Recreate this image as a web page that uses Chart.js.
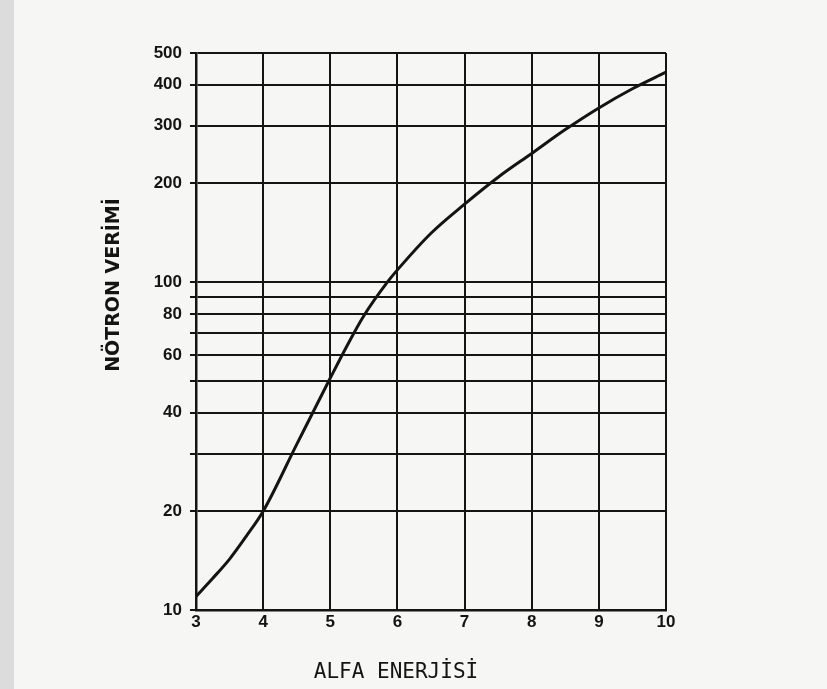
<!DOCTYPE html>
<html>
<head>
<meta charset="utf-8">
<script src="https://cdn.jsdelivr.net/npm/chart.js@4.4.1/dist/chart.umd.min.js"></script>
<style>
    html, body { margin: 0; padding: 0; }
    body { width: 827px; height: 689px; background: #f6f6f4; overflow: hidden; }
    #wrap { position: relative; width: 827px; height: 689px; }
    #strip { position: absolute; left: 0; top: 0; width: 14px; height: 689px; background: #dcdcdc; }
    canvas { position: absolute; left: 0; top: 0; }
</style>
</head>
<body>
<div id="wrap">
    <div id="strip"></div>
    <canvas id="yieldChart" width="827" height="689"></canvas>
</div>
<script>
// alpha energy (MeV) vs neutron yield
const energies = [3, 3.25, 3.5, 3.75, 4, 4.5, 5, 5.25, 5.5, 5.85, 6, 6.5, 7, 7.5, 8, 8.5, 9, 9.5, 10];
const yields   = [11, 12.5, 14.3, 16.8, 20, 32, 51, 64, 79, 100, 109, 141, 173, 209, 247, 292, 340, 389, 437];

const yGridValues = [10, 20, 30, 40, 50, 60, 70, 80, 90, 100, 200, 300, 400, 500];
const yTickLabels = [10, 20, 40, 60, 80, 100, 200, 300, 400, 500];
const xTicks      = [3, 4, 5, 6, 7, 8, 9, 10];

const xTitle = 'ALFA ENERJİSİ';
const yTitle = 'NÖTRON VERİMİ';

const ink = '#141414';

const axisTitles = {
    id: 'axisTitles',
    afterDraw(chart) {
        const ctx = chart.ctx;
        const area = chart.chartArea;
        ctx.save();
        ctx.fillStyle = ink;
        ctx.textAlign = 'center';
        ctx.textBaseline = 'middle';
        ctx.font = '21px "DejaVu Sans Mono"';
        ctx.fillText(xTitle, area.left + 200, area.bottom + 63);
        ctx.translate(area.left - 82, area.top + 232);
        ctx.rotate(-Math.PI / 2);
        ctx.font = 'bold 19px "DejaVu Sans"';
        ctx.fillText(yTitle, 0, 0);
        ctx.restore();
    }
};

new Chart(document.getElementById('yieldChart'), {
    type: 'line',
    data: {
        datasets: [{
            data: energies.map((e, i) => ({ x: e, y: yields[i] })),
            borderColor: ink,
            borderWidth: 3,
            pointRadius: 0,
            cubicInterpolationMode: 'monotone',
            fill: false
        }]
    },
    options: {
        responsive: false,
        animation: false,
        layout: { padding: { top: 53, right: 161, left: 0, bottom: 0 } },
        plugins: {
            legend: { display: false },
            tooltip: { enabled: false }
        },
        scales: {
            x: {
                type: 'linear',
                min: 3,
                max: 10,
                afterBuildTicks: s => { s.ticks = xTicks.map(v => ({ value: v })); },
                afterFit: s => { s.height = 79; },
                ticks: {
                    color: ink,
                    padding: 2,
                    font: { family: '"Liberation Sans"', size: 17, weight: 'bold' }
                },
                grid: { color: ink, lineWidth: 2, drawTicks: false },
                border: { color: ink, width: 2.5 }
            },
            y: {
                type: 'logarithmic',
                min: 10,
                max: 500,
                afterBuildTicks: s => { s.ticks = yGridValues.map(v => ({ value: v })); },
                afterFit: s => { s.width = 196; },
                ticks: {
                    color: ink,
                    padding: 8,
                    autoSkip: false,
                    font: { family: '"Liberation Sans"', size: 17, weight: 'bold' },
                    callback: v => yTickLabels.includes(v) ? String(v) : ''
                },
                grid: { color: ink, lineWidth: 2, tickLength: 6 },
                border: { color: ink, width: 2.5 }
            }
        }
    },
    plugins: [axisTitles]
});
</script>
</body>
</html>
